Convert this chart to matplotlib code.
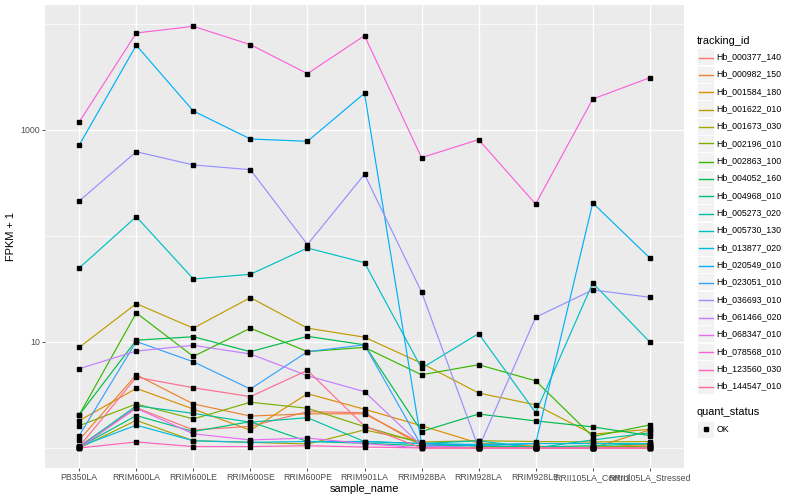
import matplotlib
matplotlib.use("Agg")
import matplotlib.pyplot as plt
from matplotlib.patches import Rectangle
from matplotlib.lines import Line2D

plt.rcParams['font.family'] = ['Liberation Sans', 'DejaVu Sans']

samples = ["PB350LA", "RRIM600LA", "RRIM600LE", "RRIM600SE", "RRIM600PE",
           "RRIM901LA", "RRIM928BA", "RRIM928LA", "RRIM928LE",
           "RRII105LA_Control", "RRII105LA_Stressed"]

tracking_ids = ["Hb_000377_140", "Hb_000982_150", "Hb_001584_180", "Hb_001622_010",
                "Hb_001673_030", "Hb_002196_010", "Hb_002863_100", "Hb_004052_160",
                "Hb_004968_010", "Hb_005273_020", "Hb_005730_130", "Hb_013877_020",
                "Hb_020549_010", "Hb_023051_010", "Hb_036693_010", "Hb_061466_020",
                "Hb_068347_010", "Hb_078568_010", "Hb_123560_030", "Hb_144547_010"]

colors = ["#F8766D", "#EA8331", "#D89000", "#C09B00", "#A3A500", "#7CAE00",
          "#39B600", "#00BB4E", "#00BF7D", "#00C1A3", "#00BFC4", "#00BAE0",
          "#00B0F6", "#35A2FF", "#9590FF", "#C77CFF", "#E76BF3", "#FA62DB",
          "#FF62BC", "#FF6C91"]

# FPKM + 1 values per sample (order as in `samples`)
hb_000377_140 = [1.04, 2.4, 1.48, 1.6, 2.2, 2.15, 1.05, 1.0, 1.0, 1.0, 1.05]
hb_000982_150 = [1.19, 4.9, 2.6, 2.0, 2.1, 2.1, 1.1, 1.05, 1.0, 1.0, 1.09]
hb_001584_180 = [1.81, 3.65, 2.33, 1.47, 3.25, 2.32, 1.62, 1.11, 1.04, 1.0, 1.48]
hb_001622_010 = [8.9, 23.0, 13.5, 26.2, 13.5, 11.1, 6.3, 3.3, 2.55, 1.35, 1.5]
hb_001673_030 = [1.0, 1.82, 1.17, 1.13, 1.09, 1.48, 1.14, 1.17, 1.15, 1.14, 1.15]
hb_002196_010 = [1.62, 2.6, 1.88, 2.7, 2.37, 1.59, 1.11, 1.04, 1.02, 1.02, 1.04]
hb_002863_100 = [2.05, 18.8, 7.3, 13.5, 8.1, 8.9, 4.9, 6.1, 4.3, 1.28, 1.65]
hb_004052_160 = [2.05, 10.4, 11.2, 8.1, 11.3, 9.4, 1.43, 2.09, 1.8, 1.58, 1.31]
hb_004968_010 = [1.02, 2.02, 1.43, 1.77, 1.15, 1.11, 1.05, 1.05, 1.02, 1.05, 1.1]
hb_005273_020 = [1.02, 2.5, 2.12, 1.75, 1.93, 1.15, 1.1, 1.17, 1.0, 1.19, 1.39]
hb_005730_130 = [49.9, 152.0, 39.3, 43.5, 77.0, 56.0, 5.65, 12.0, 2.15, 36.0, 10.0]
hb_013877_020 = [1.03, 1.64, 1.17, 1.13, 1.15, 1.15, 1.1, 1.08, 1.1, 1.1, 1.1]
hb_020549_010 = [721.0, 6300.0, 1510.0, 822.0, 782.0, 2220.0, 1.1, 1.05, 1.1, 205.0, 62.0]
hb_023051_010 = [1.31, 10.1, 6.5, 3.6, 8.1, 9.4, 1.05, 1.0, 1.0, 1.0, 1.0]
hb_036693_010 = [214.0, 623.0, 468.0, 422.0, 83.0, 382.0, 29.6, 1.0, 17.1, 31.0, 26.4]
hb_061466_020 = [5.6, 8.2, 9.3, 7.7, 4.8, 3.4, 1.05, 1.0, 1.0, 1.0, 1.0]
hb_068347_010 = [1.0, 2.37, 1.36, 1.19, 1.24, 1.1, 1.0, 1.0, 1.0, 1.0, 1.0]
hb_078568_010 = [1190.0, 8220.0, 9500.0, 6380.0, 3400.0, 7760.0, 548.0, 811.0, 200.0, 1960.0, 3110.0]
hb_123560_030 = [1.0, 1.14, 1.03, 1.03, 1.05, 1.02, 1.0, 1.0, 1.0, 1.0, 1.0]
hb_144547_010 = [1.03, 4.65, 3.7, 3.05, 5.4, 1.61, 1.0, 1.0, 1.0, 1.0, 1.0]

series = [hb_000377_140, hb_000982_150, hb_001584_180, hb_001622_010, hb_001673_030,
          hb_002196_010, hb_002863_100, hb_004052_160, hb_004968_010, hb_005273_020,
          hb_005730_130, hb_013877_020, hb_020549_010, hb_023051_010, hb_036693_010,
          hb_061466_020, hb_068347_010, hb_078568_010, hb_123560_030, hb_144547_010]

W, H = 800, 500
fig = plt.figure(figsize=(W / 100, H / 100), dpi=100)
L, R, T, B = 45, 684, 5, 468
ax = fig.add_axes([L / W, 1 - B / H, (R - L) / W, (B - T) / H])
ax.set_facecolor("#EBEBEB")
for s in ax.spines.values():
    s.set_visible(False)

x = list(range(len(samples)))
for vals, c in zip(series, colors):
    ax.plot(x, vals, color=c, lw=0.85, zorder=3, solid_capstyle='butt')
for vals in series:
    ax.plot(x, vals, ls='none', marker='s', ms=2.4, color='black', zorder=4)

ax.set_yscale('log')
ax.set_ylim(10 ** (-0.189), 10 ** 4.179)
ax.set_xlim(-0.6, len(samples) - 0.4)
ax.set_yticks([10, 1000])
ax.set_yticklabels(["10", "1000"])
ax.set_yticks([1, 100, 10000], minor=True)
ax.yaxis.set_minor_formatter(plt.NullFormatter())
ax.set_xticks(x)
ax.set_xticklabels(samples)
ax.grid(True, which='major', color='white', lw=1.0, zorder=1)
ax.grid(True, which='minor', axis='y', color='white', lw=0.5, zorder=1)
ax.set_axisbelow(True)
ax.tick_params(axis='both', which='major', length=2.0, width=0.6, color='#333333',
               labelsize=6.3, labelcolor='#4D4D4D', pad=1.5)
ax.tick_params(axis='y', which='minor', length=0)
ax.set_xlabel("sample_name", fontsize=7.9, labelpad=1.5)
ax.set_ylabel("FPKM + 1", fontsize=7.9, labelpad=3)


def fx(px):
    return px / W


def fy(py):
    return 1 - py / H


# legend: tracking_id
fig.text(fx(696.7), fy(40.7), "tracking_id", fontsize=7.9, va='center', ha='left')
kx, kw = 697, 17
for i, (name, c) in enumerate(zip(tracking_ids, colors)):
    cy = 56.7 + i * 17.33
    ly = round(cy) + 0.5
    fig.add_artist(Rectangle((fx(kx), fy(cy + kw / 2)), kw / W, kw / H,
                             transform=fig.transFigure, facecolor='#F2F2F2',
                             edgecolor='white', lw=0.6))
    fig.add_artist(Line2D([fx(kx + 1.5), fx(kx + kw - 1.5)], [fy(ly), fy(ly)],
                          transform=fig.transFigure, color=c, lw=1.0))
    fig.text(fx(716.7), fy(cy), name, fontsize=6.3, va='center', ha='left')

# legend: quant_status
fig.text(fx(696.7), fy(412.3), "quant_status", fontsize=7.9, va='center', ha='left')
fig.add_artist(Rectangle((fx(kx), fy(429 + kw / 2)), kw / W, kw / H,
                         transform=fig.transFigure, facecolor='#F2F2F2',
                         edgecolor='white', lw=0.6))
fig.add_artist(Line2D([fx(kx + kw / 2)], [fy(429)], transform=fig.transFigure,
                      ls='none', marker='s', ms=2.4, color='black'))
fig.text(fx(716.7), fy(429), "OK", fontsize=6.3, va='center', ha='left')

fig.savefig("out.png", dpi=100)
